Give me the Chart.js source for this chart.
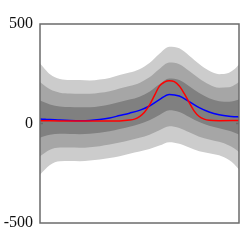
<!DOCTYPE html>
<html>
<head>
  <script src="https://cdn.jsdelivr.net/npm/chart.js@4.4.1/dist/chart.umd.min.js"></script>
  <style>
    body { margin: 0; background: #fff; }
  </style>
</head>
<body>
  <canvas id="myChart" width="248" height="248"></canvas>

  <script>
    // posterior mean (blue) and std dev
    const gridX = [0, 0.025, 0.05, 0.1, 0.15, 0.2, 0.25, 0.3, 0.35, 0.4, 0.45, 0.5, 0.55, 0.6, 0.65, 0.7, 0.75, 0.8, 0.85, 0.9, 0.95, 0.975, 1];
    const meanY = [22, 21, 20, 17, 15, 14, 15, 20, 28, 40, 52, 66, 88, 120, 146, 138, 110, 80, 58, 44, 36, 34, 33];
    const sdY   = [93, 84, 76, 69, 68, 68, 67, 67, 67, 68, 68, 69, 72, 77, 80, 80, 77, 73, 69, 68, 73, 79, 88];

    // true function (red)
    const truthX = [0, 0.1, 0.2, 0.3, 0.4, 0.45, 0.475, 0.5, 0.525, 0.55, 0.575, 0.6, 0.625, 0.65, 0.675, 0.7, 0.725, 0.75, 0.775, 0.8, 0.825, 0.85, 0.9, 1];
    const truthY = [14, 13, 12, 12, 13, 17, 22, 35, 57, 92, 140, 188, 208, 215, 210, 188, 150, 105, 62, 35, 22, 16, 14, 15];

    const yTicks = [-500, 0, 500];
    const bandShades = ["#cccccc", "#a6a6a6", "#808080"]; // 3, 2, 1 sd

    const pts = (xs, ys) => xs.map((x, i) => ({ x: x, y: ys[i] }));
    const edge = (k) => meanY.map((m, i) => m + k * sdY[i]);

    const datasets = [
      { label: "truth", data: pts(truthX, truthY), borderColor: "#ff0000", borderWidth: 1.5, order: 0 },
      { label: "mean", data: pts(gridX, meanY), borderColor: "#0000ff", borderWidth: 1.5, order: 1 }
    ];

    // bands: 3 sd drawn first, then 2, then 1
    [3, 2, 1].forEach((k, j) => {
      const up = datasets.length;
      datasets.push({ label: "up" + k, data: pts(gridX, edge(k)), borderWidth: 0, borderColor: "rgba(0,0,0,0)", order: 10 - j * 2 });
      datasets.push({
        label: "lo" + k, data: pts(gridX, edge(-k)), borderWidth: 0, borderColor: "rgba(0,0,0,0)",
        backgroundColor: bandShades[j], fill: { target: up }, order: 10 - j * 2
      });
    });

    const frame = {
      id: "frame",
      afterDraw(chart) {
        const { ctx, chartArea: a } = chart;
        const y0 = chart.scales.y.getPixelForValue(0);
        ctx.save();
        ctx.strokeStyle = "#6b6b6b";
        ctx.lineWidth = 1.5;
        ctx.strokeRect(a.left, a.top, a.right - a.left, a.bottom - a.top);
        ctx.beginPath();
        ctx.moveTo(a.left, y0); ctx.lineTo(a.left + 3, y0);
        ctx.moveTo(a.right, y0); ctx.lineTo(a.right - 3, y0);
        ctx.stroke();
        ctx.restore();
      }
    };

    new Chart("myChart", {
      type: "line",
      data: { datasets: datasets },
      options: {
        responsive: false,
        animation: false,
        layout: { padding: { top: 24, right: 9, bottom: 25, left: 0 } },
        elements: { point: { radius: 0 }, line: { tension: 0, cubicInterpolationMode: "monotone" } },
        plugins: { legend: { display: false }, tooltip: { enabled: false } },
        scales: {
          x: { type: "linear", min: 0, max: 1, display: false },
          y: {
            min: -500, max: 500,
            afterFit: (s) => { s.width = 40; },
            afterBuildTicks: (s) => { s.ticks = yTicks.map(v => ({ value: v })); },
            grid: { display: false, drawTicks: false },
            border: { display: false },
            ticks: { color: "#111", padding: 7, font: { family: "Liberation Serif", size: 16 } }
          }
        }
      },
      plugins: [frame]
    });
  </script>
</body>
</html>
